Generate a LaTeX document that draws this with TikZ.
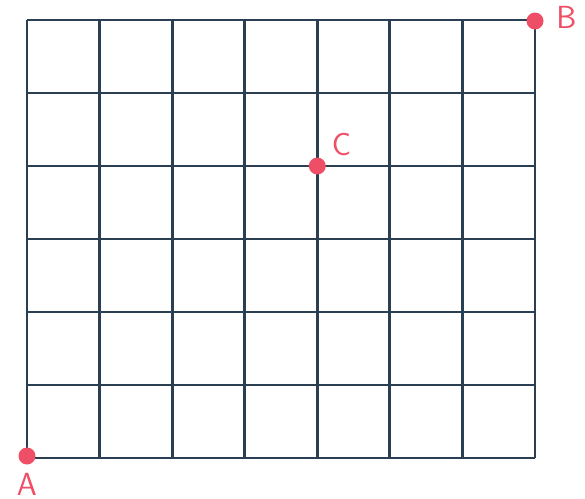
\documentclass[tikz,border=0pt]{standalone}
\usepackage{tikz}
\usetikzlibrary{positioning}
\definecolor{gridblue}{HTML}{2B3F52}
\definecolor{dotred}{HTML}{EE4F66}

\begin{document}
\begin{tikzpicture}[
x=0.5pt, y=-0.5pt,
gridline/.style={draw=gridblue, line width=1.4pt},
spot/.style={circle, fill=dotred, inner sep=0pt, minimum size=8.5pt},
lbl/.style={text=dotred, font=\sffamily\fontsize{16}{16}\selectfont, inner sep=1pt},
node distance=2pt
]
\useasboundingbox (0,0) rectangle (585,499);
% grid 7 x 6
\foreach \i in {0,...,7}
  \draw[gridline] (27+\i*72.57,20) -- (27+\i*72.57,458);
\foreach \j in {0,...,6}
  \draw[gridline] (27,20+\j*73) -- (535,20+\j*73);
% points
\node[spot] (a) at (27,456) {};
\node[spot] (b) at (535,21) {};
\node[spot] (c) at (317.3,166) {};
\node[lbl, below=3pt of a] (la) {A};
\node[lbl, right=5pt of b, yshift=2pt] (lb) {B};
\node[lbl, above right=1pt and 3pt of c] (lc) {C};
\end{tikzpicture}
\end{document}
